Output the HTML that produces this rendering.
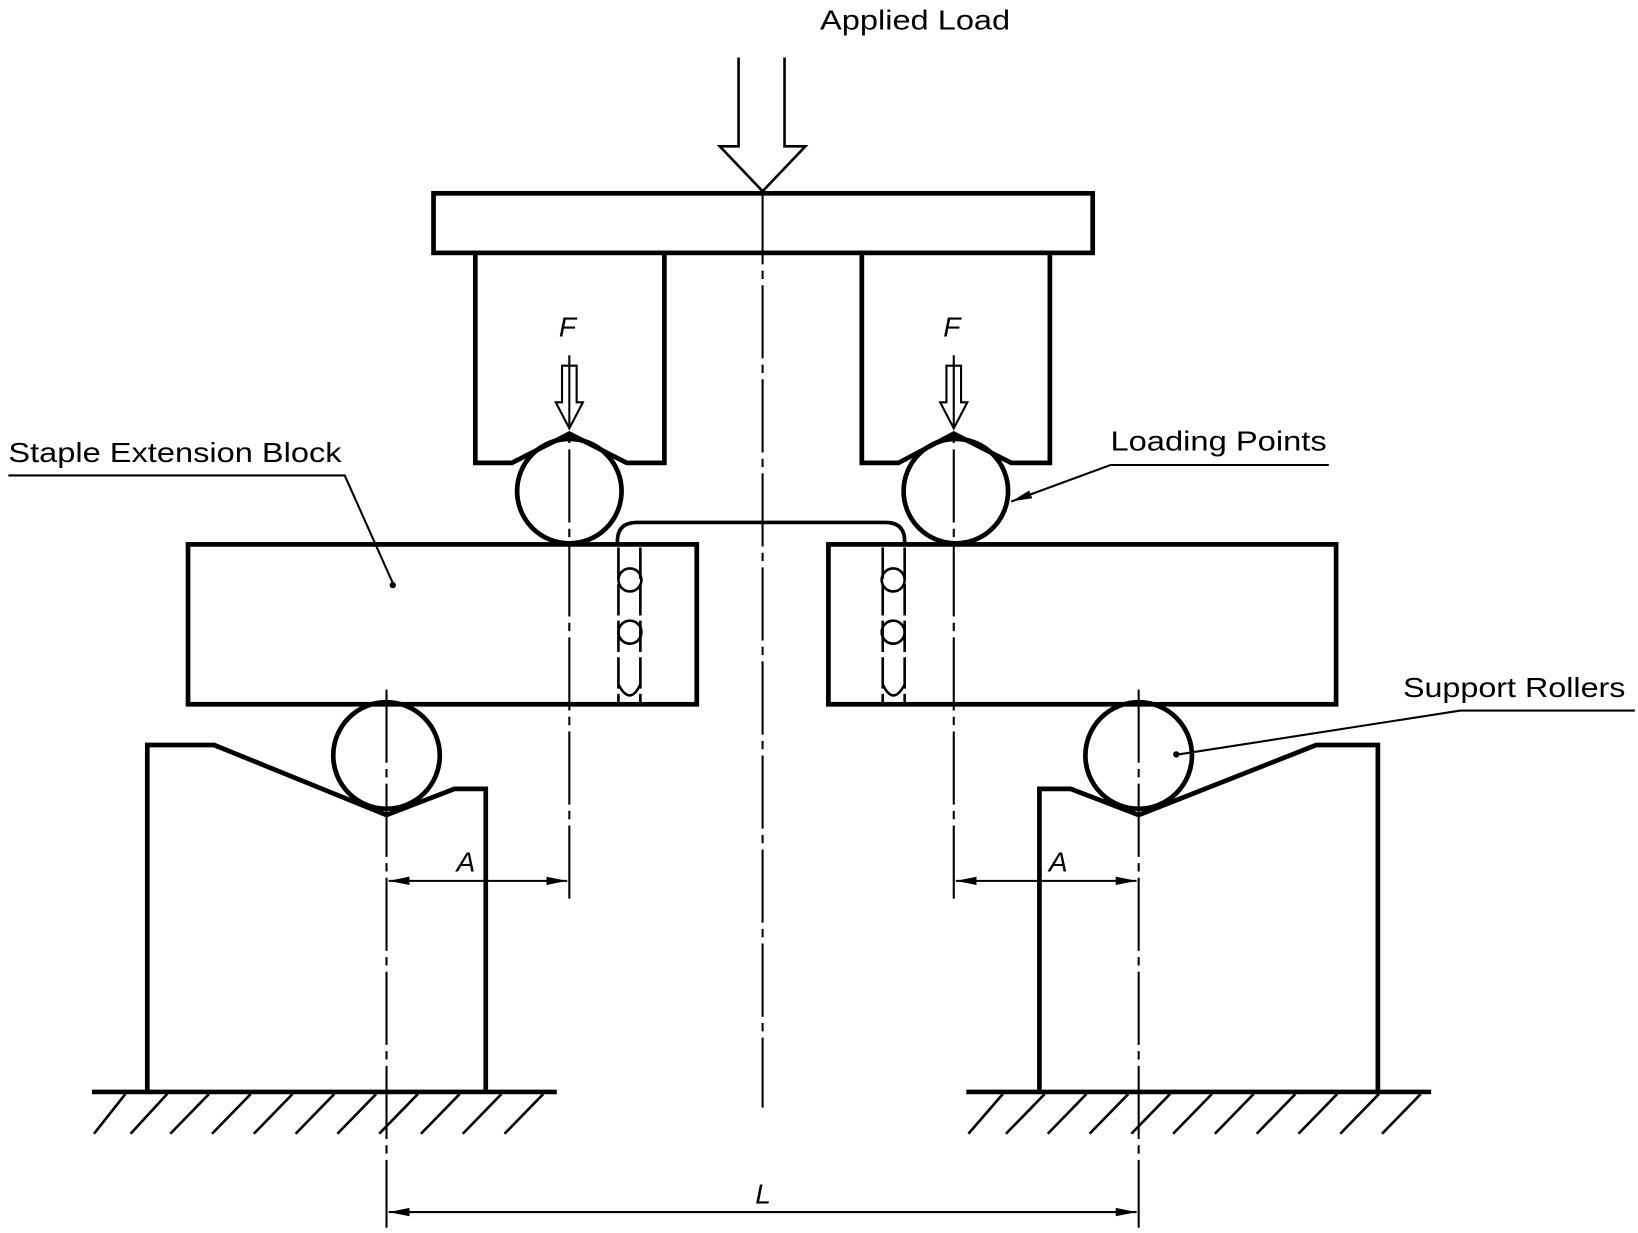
<!DOCTYPE html>
<html><head><meta charset="utf-8"><style>html,body{margin:0;padding:0;background:#fff}svg{display:block}</style></head>
<body>
<svg width="1638" height="1233" viewBox="0 0 1568 1180" preserveAspectRatio="none" xmlns="http://www.w3.org/2000/svg">
<defs>
<marker id="ar" viewBox="0 0 20 10" refX="20" refY="5" markerWidth="20" markerHeight="10" markerUnits="userSpaceOnUse" orient="auto-start-reverse"><path d="M0,1 L20,5 L0,9 Z" fill="#000"/></marker>
</defs>
<g font-family="Liberation Sans, sans-serif" font-size="27" fill="#000">
<text x="785" y="28" textLength="182" lengthAdjust="spacingAndGlyphs">Applied Load</text>
<text x="8" y="442" textLength="319" lengthAdjust="spacingAndGlyphs">Staple Extension Block</text>
<text x="1063" y="431" textLength="207" lengthAdjust="spacingAndGlyphs">Loading Points</text>
<text x="1343" y="667" textLength="213" lengthAdjust="spacingAndGlyphs">Support Rollers</text>
<g font-style="italic">
<text x="535" y="322">F</text><text x="903" y="322">F</text>
<text x="437" y="834">A</text><text x="1004" y="834">A</text>
<text x="723" y="1152">L</text>
</g>
</g>
<g fill="none" stroke="#000" stroke-width="4.5" stroke-linejoin="miter">
<path d="M707,55 V140 H689 L730,183 L771,140 H751 V55" stroke-width="2.5"/>
<rect x="415" y="185" width="631" height="57"/>
<path d="M455,242 V443 H490 L545,415 L600,443 H636 V242"/>
<path d="M825,242 V443 H860 L913,415 L968,443 H1005 V242"/>
<circle cx="545" cy="470" r="50"/>
<circle cx="915" cy="470" r="50"/>
<rect x="180" y="521" width="487" height="153"/>
<rect x="793" y="521" width="486" height="153"/>
<path d="M591,521 V518 Q591,500 610,500 H848 Q866,500 866,518 V521" stroke-width="3.5"/>
<circle cx="370" cy="723" r="51"/>
<circle cx="1090" cy="723" r="51"/>
<path d="M141,1045 V713 H205 L370,780 L435,755 H465 V1045"/>
<path d="M995,1045 V755 H1025 L1090,780 L1260,713 H1319 V1045"/>
<path d="M88,1045 H533 M925,1045 H1370"/>
</g>
<g fill="#fff" stroke="#000" stroke-width="2">
<path d="M538,350 V385 H532 L545,410 L558,385 H552 V350 Z"/>
<path d="M906,350 V385 H900 L913,410 L926,385 H920 V350 Z"/>
</g>
<g fill="none" stroke="#000" stroke-width="2.5">
<path d="M592,524 V674 M613,524 V674 M845,524 V674 M866,524 V674" stroke-dasharray="30,5"/>
<circle cx="603" cy="555" r="11"/><circle cx="603" cy="605" r="11"/>
<circle cx="855" cy="555" r="11"/><circle cx="855" cy="605" r="11"/>
<path d="M592,655 Q603,676 613,655 M845,655 Q855,676 866,655"/>
</g>
<g stroke="#000" stroke-width="2.5">
<path d="M120,1047 L90,1085 M160,1047 L125,1085 M200,1047 L163,1085 M240,1047 L203,1085 M280,1047 L243,1085 M320,1047 L283,1085 M360,1047 L323,1085 M400,1047 L363,1085 M440,1047 L403,1085 M480,1047 L443,1085 M520,1047 L483,1085"/>
<path d="M960,1047 L927,1085 M1000,1047 L963,1085 M1040,1047 L1003,1085 M1080,1047 L1043,1085 M1120,1047 L1083,1085 M1160,1047 L1123,1085 M1200,1047 L1163,1085 M1240,1047 L1203,1085 M1280,1047 L1243,1085 M1320,1047 L1283,1085 M1360,1047 L1323,1085"/>
</g>
<g stroke="#000" stroke-width="2" stroke-dasharray="70,6,8,6" fill="none">
<path d="M730,183 V1060"/>
<path d="M545,340 V860"/>
<path d="M913,340 V860"/>
<path d="M370,660 V1175"/>
<path d="M1090,660 V1175"/>
</g>
<g stroke="#000" stroke-width="2" fill="none">
<path d="M372,843 H543" marker-start="url(#ar)" marker-end="url(#ar)"/>
<path d="M915,843 H1088" marker-start="url(#ar)" marker-end="url(#ar)"/>
<path d="M372,1160 H1088" marker-start="url(#ar)" marker-end="url(#ar)"/>
<path d="M8,455 H330 L376,558"/>
<path d="M1272,445 H1063 L968,480" marker-end="url(#ar)"/>
<path d="M1565,680 H1398 L1128,722"/>
</g>
<circle cx="376" cy="560" r="3" fill="#000"/>
<circle cx="1126" cy="722" r="3" fill="#000"/>
</svg>
</body></html>
